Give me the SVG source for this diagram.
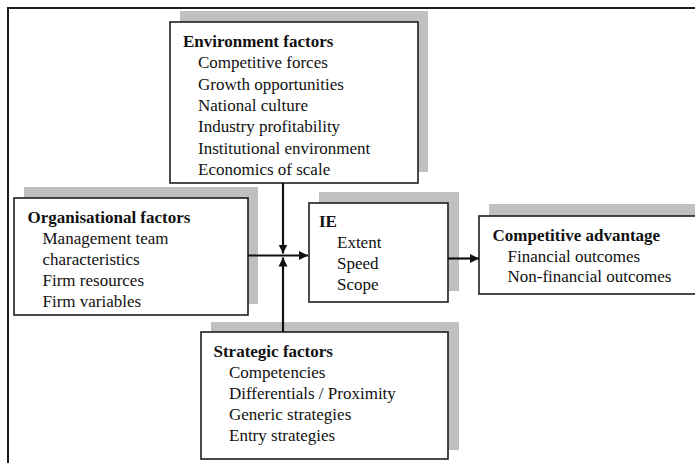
<svg xmlns="http://www.w3.org/2000/svg" width="695" height="463" viewBox="0 0 695 463">
<style>
  .shadow { fill: #c0c0c0; stroke: none; }
  .box { fill: #ffffff; stroke: #1e1e1e; stroke-width: 1.6; }
  text { font-family: "Liberation Serif", "Times New Roman", serif; font-size: 17px; fill: #111111; }
  .title { font-weight: bold; }
  .conn { stroke: #111111; stroke-width: 2.2; fill: none; }
  .frame { stroke: #1e1e1e; stroke-width: 2; fill: none; }
</style>
<defs>
  <marker id="arrow" markerUnits="userSpaceOnUse" markerWidth="10" markerHeight="10" refX="9" refY="5" orient="auto">
    <path d="M0,0.5 L9,5 L0,9.5 z" fill="#111111"/>
  </marker>
</defs>
<rect x="0" y="0" width="695" height="463" fill="#ffffff"/>
<path class="frame" d="M8,463 V8 H695"/>

<g id="environment">
  <rect class="shadow" x="180" y="11" width="248" height="161"/>
  <rect class="box" x="170" y="22" width="248" height="161"/>
  <text class="title" x="183" y="47">Environment factors</text>
  <text x="198" y="68">Competitive forces</text>
  <text x="198" y="89.5">Growth opportunities</text>
  <text x="198" y="111">National culture</text>
  <text x="198" y="132">Industry profitability</text>
  <text x="198" y="153.5">Institutional environment</text>
  <text x="198" y="175">Economics of scale</text>
</g>

<g id="organisational">
  <rect class="shadow" x="24" y="187" width="234" height="117"/>
  <rect class="box" x="14" y="198" width="234" height="117"/>
  <text class="title" x="27.5" y="222.5">Organisational factors</text>
  <text x="42.5" y="244">Management team</text>
  <text x="42.5" y="265">characteristics</text>
  <text x="42.5" y="286">Firm resources</text>
  <text x="42.5" y="307">Firm variables</text>
</g>

<g id="ie">
  <rect class="shadow" x="319" y="192" width="140" height="99"/>
  <rect class="box" x="309" y="203" width="139" height="99"/>
  <text class="title" x="319" y="226.5">IE</text>
  <text x="337" y="248">Extent</text>
  <text x="337" y="269">Speed</text>
  <text x="337" y="290">Scope</text>
</g>

<g id="competitive">
  <rect class="shadow" x="489" y="204" width="240" height="78"/>
  <rect class="box" x="479" y="216" width="240" height="78"/>
  <text class="title" x="492.5" y="240.5">Competitive advantage</text>
  <text x="507.5" y="261.5">Financial outcomes</text>
  <text x="507.5" y="282">Non-financial outcomes</text>
</g>

<g id="strategic">
  <rect class="shadow" x="211" y="322" width="248" height="128"/>
  <rect class="box" x="201" y="332" width="247" height="127"/>
  <text class="title" x="213.5" y="356.5">Strategic factors</text>
  <text x="229" y="377.5">Competencies</text>
  <text x="229" y="399">Differentials / Proximity</text>
  <text x="229" y="420">Generic strategies</text>
  <text x="229" y="440.5">Entry strategies</text>
</g>

<g id="connectors">
  <line class="conn" x1="283" y1="183" x2="283" y2="253.5" marker-end="url(#arrow)"/>
  <line class="conn" x1="283" y1="332" x2="283" y2="257.5" marker-end="url(#arrow)"/>
  <line class="conn" x1="248" y1="255.5" x2="308" y2="255.5" marker-end="url(#arrow)"/>
  <line class="conn" x1="448" y1="258.5" x2="479" y2="258.5" marker-end="url(#arrow)"/>
</g>
</svg>
